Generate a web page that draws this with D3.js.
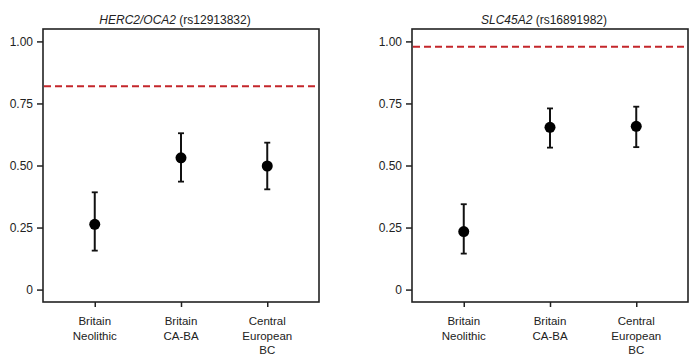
<!DOCTYPE html>
<html>
<head>
<meta charset="utf-8">
<script src="https://cdn.jsdelivr.net/npm/d3@7"></script>
<style>
  body { margin: 0; background: #fff; }
  svg { font-family: "Liberation Sans", Arial, sans-serif; }
</style>
</head>
<body>
<div id="chart"></div>
<script>
// data
const categories = [["Britain", "Neolithic"], ["Britain", "CA-BA"], ["Central", "European", "BC"]];
const yTicks = [0, 0.25, 0.5, 0.75, 1];
const yTickLabels = ["0", "0.25", "0.50", "0.75", "1.00"];

const herc2Gene = "HERC2/OCA2";
const herc2Snp = " (rs12913832)";
const herc2Est = [0.263, 0.531, 0.498];
const herc2Low = [0.157, 0.435, 0.404];
const herc2High = [0.392, 0.630, 0.592];
const herc2Ref = 0.819;

const slcGene = "SLC45A2";
const slcSnp = " (rs16891982)";
const slcEst = [0.234, 0.654, 0.658];
const slcLow = [0.145, 0.572, 0.574];
const slcHigh = [0.344, 0.730, 0.737];
const slcRef = 0.978;

const width = 695, height = 360;
const svg = d3.select("#chart").append("svg")
  .attr("width", width)
  .attr("height", height);

function panel(left, gene, snp, est, low, high, ref) {
  const w = 276, top = 29, bottom = 302;
  const g = svg.append("g").attr("transform", "translate(" + left + ",0)");

  const x = d3.scaleLinear().domain([0.4, 3.6]).range([0, w]);
  const y = d3.scaleLinear().domain([-0.05, 1.05]).range([bottom, top]);

  // y axis
  const yAxis = d3.axisLeft(y).tickValues(yTicks)
    .tickFormat((d, i) => yTickLabels[i]).tickSize(6).tickPadding(4);
  const ya = g.append("g").call(yAxis);
  ya.select(".domain").remove();
  ya.selectAll("line").attr("stroke", "#222").attr("stroke-width", 1.5);
  ya.selectAll("text").style("font-size", "12px").attr("fill", "#222");

  // x axis
  const xAxis = d3.axisBottom(x).tickValues([1, 2, 3]).tickFormat("").tickSize(5);
  const xa = g.append("g").attr("transform", "translate(0," + bottom + ")").call(xAxis);
  xa.select(".domain").remove();
  xa.selectAll("line").attr("stroke", "#222").attr("stroke-width", 1.5);

  categories.forEach((lines, i) => {
    const t = g.append("text")
      .attr("x", x(i + 1))
      .attr("y", 325)
      .attr("text-anchor", "middle")
      .style("font-size", "11.5px")
      .attr("fill", "#222");
    lines.forEach((l, j) => {
      t.append("tspan").attr("x", x(i + 1)).attr("dy", j === 0 ? 0 : 14.5).text(l);
    });
  });

  // frame
  g.append("rect")
    .attr("x", 0).attr("y", top)
    .attr("width", w).attr("height", bottom - top)
    .attr("fill", "none").attr("stroke", "#222").attr("stroke-width", 1.6);

  // reference line
  g.append("line")
    .attr("x1", 1).attr("x2", w - 1)
    .attr("y1", y(ref)).attr("y2", y(ref))
    .attr("stroke", "#c4262b").attr("stroke-width", 2)
    .attr("stroke-dasharray", "7,4");

  // error bars
  const idx = [0, 1, 2];
  g.selectAll(".err").data(idx).enter().append("line")
    .attr("x1", i => x(i + 1)).attr("x2", i => x(i + 1))
    .attr("y1", i => y(low[i])).attr("y2", i => y(high[i]))
    .attr("stroke", "#111").attr("stroke-width", 2);
  [low, high].forEach(arr => {
    g.selectAll(null).data(idx).enter().append("line")
      .attr("x1", i => x(i + 1) - 3).attr("x2", i => x(i + 1) + 3)
      .attr("y1", i => y(arr[i])).attr("y2", i => y(arr[i]))
      .attr("stroke", "#111").attr("stroke-width", 1.8);
  });

  g.selectAll("circle").data(idx).enter().append("circle")
    .attr("cx", i => x(i + 1)).attr("cy", i => y(est[i]))
    .attr("r", 5.5).attr("fill", "#000");

  // title
  const title = g.append("text")
    .attr("x", w / 2 - 6).attr("y", 24)
    .attr("text-anchor", "middle")
    .style("font-size", "12px")
    .attr("fill", "#222");
  title.append("tspan").style("font-style", "italic").text(gene);
  title.append("tspan").text(snp);
}

panel(43, herc2Gene, herc2Snp, herc2Est, herc2Low, herc2High, herc2Ref);
panel(412, slcGene, slcSnp, slcEst, slcLow, slcHigh, slcRef);
</script>
</body>
</html>
